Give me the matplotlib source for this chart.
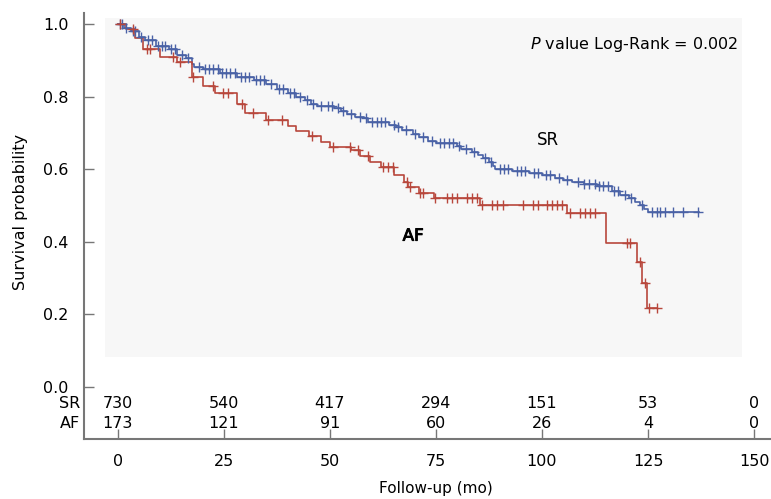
import numpy as np
import matplotlib
matplotlib.use("Agg")
from matplotlib import pyplot as plt
from matplotlib.patches import Rectangle
import matplotlib.patheffects as pe

# Kaplan-Meier steps (time in months, survival)
sr_t = [0, 1.5, 3, 5, 6.5, 9, 12, 14, 16, 17.5, 18, 20, 24, 28, 32, 35, 37.5, 40, 42, 44,
        45.5, 47, 51, 52.5, 54, 56, 58, 59, 64, 65.5, 67, 69.5, 71, 73, 75, 80, 81, 83.5,
        85, 86, 87.5, 88.5, 89, 93, 97, 100, 103, 105, 107, 110, 113, 116.5, 118.5, 120.5,
        122, 123, 124, 125, 137]
sr_s = [1.0, 0.99, 0.98, 0.965, 0.955, 0.94, 0.93, 0.915, 0.905, 0.89, 0.88, 0.875, 0.865,
        0.855, 0.845, 0.835, 0.82, 0.81, 0.80, 0.79, 0.78, 0.775, 0.768, 0.76, 0.752, 0.745,
        0.74, 0.73, 0.722, 0.715, 0.708, 0.698, 0.688, 0.678, 0.672, 0.665, 0.655, 0.648,
        0.64, 0.63, 0.62, 0.61, 0.60, 0.595, 0.59, 0.583, 0.577, 0.57, 0.565, 0.56, 0.555,
        0.54, 0.53, 0.52, 0.51, 0.50, 0.49, 0.483, 0.483]
sr_cens = [0.5, 1, 2, 3.5, 4, 5.5, 7, 8, 9.5, 10.5, 11, 12.5, 13.5, 15, 16.5, 19, 20.5, 21.5,
           22.5, 23.5, 24.5, 25.5, 26.5, 27.5, 29, 30, 31, 32.5, 33.5, 34.5, 36, 38, 39, 40.5,
           41.5, 43, 44.5, 46, 48, 49.5, 50.5, 52, 53, 55, 57, 58.5, 60, 61, 62, 63, 65, 66,
           68, 70, 72, 74, 76, 77, 78, 79, 80.5, 82, 84, 86.5, 88, 90, 91, 92, 94, 95, 96, 98,
           99, 101, 102, 104, 106, 108.5, 110, 111, 112.5, 113.5, 114.5, 115.5, 117, 118,
           119.5, 121, 123.5, 126, 127.2, 127.9, 129.1, 131, 133.3, 136.8]

af_t = [0, 2, 4, 6, 10, 14, 17.5, 20, 23, 28, 30, 35, 40, 42, 45, 48, 50, 55, 57, 59.5,
        62, 65, 67.5, 68.5, 71, 74.5, 85.4, 106, 115, 122.5, 123.5, 124.8, 127.2]
af_s = [1.0, 0.985, 0.96, 0.93, 0.91, 0.895, 0.855, 0.83, 0.81, 0.78, 0.755, 0.735, 0.72,
        0.705, 0.69, 0.675, 0.662, 0.654, 0.635, 0.62, 0.605, 0.585, 0.565, 0.55, 0.535,
        0.52, 0.502, 0.48, 0.397, 0.345, 0.287, 0.218, 0.218]
af_cens = [0.5, 3.5, 6.8, 7.5, 13, 14.6, 17.8, 22.4, 24.8, 26, 29.2, 31.8, 35.4, 38.7, 45.8,
           50.7, 54.7, 56.6, 59, 62.5, 63.7, 64.9, 68.2, 68.9, 71.2, 71.9, 74.8, 77.6, 78.8,
           80, 82.3, 83.5, 84.7, 85.8, 88.2, 89.4, 90.8, 95.5, 97.9, 99.1, 101.2, 102.4,
           103.5, 104.7, 106.6, 109, 110.1, 111.3, 112.5, 120, 120.8, 123, 124.2, 125.3, 127.2]

# numbers at risk
risk_times = [0, 25, 50, 75, 100, 125, 150]
sr_risk = [730, 540, 417, 294, 151, 53, 0]
af_risk = [173, 121, 91, 60, 26, 4, 0]

blue = "#4a62a6"
red = "#b8473c"

fig = plt.figure(figsize=(7.71, 4.99), dpi=100)
ax = fig.add_axes([84 / 771, 60 / 499, 687 / 771, 426 / 499])

ax.add_patch(Rectangle((-3, 0.083), 150.2, 0.934, facecolor="#f7f7f7",
                       edgecolor="none", zorder=0))


def at(ts, ss, c):
    i = np.searchsorted(ts, c, side="right") - 1
    return np.asarray(ss)[i]


for ts, ss, cens, col in [(sr_t, sr_s, sr_cens, blue), (af_t, af_s, af_cens, red)]:
    ax.step(ts, ss, where="post", color=col, lw=1.2, zorder=2)
    ax.plot(cens, at(ts, ss, cens), ls="none", marker="+", ms=7, mew=1.0,
            color=col, zorder=3)

ax.set_xlim(-8, 154)
ax.set_ylim(-0.143, 1.03)
ax.set_xticks(risk_times)
ax.set_yticks([0.0, 0.2, 0.4, 0.6, 0.8, 1.0])
ax.set_yticklabels(["0.0", "0.2", "0.4", "0.6", "0.8", "1.0"])
ax.tick_params(axis="x", direction="in", length=7, width=1, color="#777777",
               labelsize=11.5, pad=11)
ax.tick_params(axis="y", direction="in", length=7, width=1, color="#777777",
               labelsize=11.5, pad=11)
for s in ["top", "right"]:
    ax.spines[s].set_visible(False)
for s in ["left", "bottom"]:
    ax.spines[s].set_color("#777777")
    ax.spines[s].set_linewidth(1.5)

ax.set_ylabel("Survival probability", fontsize=11.5)
ax.yaxis.set_label_coords(-0.082, 0.533)
ax.set_xlabel("Follow-up (mo)", fontsize=11)
ax.xaxis.set_label_coords(0.512, -0.098)

# risk table
for t, n1, n2 in zip(risk_times, sr_risk, af_risk):
    ax.text(t, -0.044, str(n1), ha="center", va="center", fontsize=11.5)
    ax.text(t, -0.099, str(n2), ha="center", va="center", fontsize=11.5)
tr = ax.get_yaxis_transform()
ax.text(-0.006, -0.044, "SR", transform=tr, ha="right", va="center", fontsize=11.5)
ax.text(-0.006, -0.099, "AF", transform=tr, ha="right", va="center", fontsize=11.5)

ax.text(97.2, 0.943, r"$\mathit{P}$ value Log-Rank = 0.002", ha="left", va="center",
        fontsize=11.5)
ax.text(101.4, 0.681, "SR", ha="center", va="center", fontsize=12)
ax.text(69.6, 0.417, "AF", ha="center", va="center", fontsize=12,
        path_effects=[pe.withStroke(linewidth=0.7, foreground="black")])

fig.savefig("out.png", dpi=100)
